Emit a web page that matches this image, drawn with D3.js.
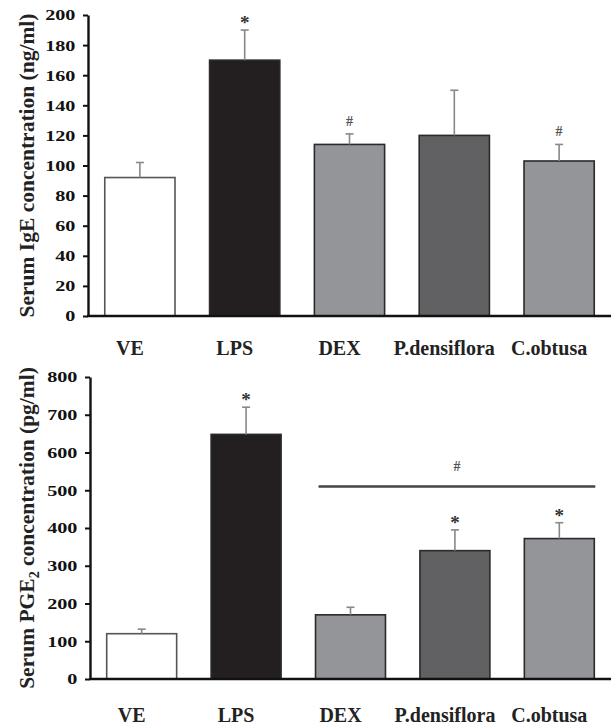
<!DOCTYPE html>
<html>
<head>
<meta charset="utf-8">
<script src="https://cdn.jsdelivr.net/npm/d3@7/dist/d3.min.js"></script>
<style>
body { margin: 0; background: #fff; }
svg { display: block; }
text { font-family: "Liberation Serif", "Times New Roman", serif; font-weight: bold; }
</style>
</head>
<body>
<svg width="613" height="727"></svg>
<script>
var groups = ["VE", "LPS", "DEX", "P.densiflora", "C.obtusa"];
var fills = ["#ffffff", "#231f20", "#939598", "#616163", "#939598"];

var igeMean = [92, 170, 114, 120, 103];
var igeErr = [10, 20, 7, 30, 11];
var igeMarks = ["", "*", "#", "", "#"];
var igeTicks = [0, 20, 40, 60, 80, 100, 120, 140, 160, 180, 200];

var pgeMean = [120, 648, 170, 340, 372];
var pgeErr = [12, 72, 20, 55, 42];
var pgeMarks = ["", "*", "", "*", "*"];
var pgeTicks = [0, 100, 200, 300, 400, 500, 600, 700, 800];
var pgeLineValue = 510;

var svg = d3.select("svg");

function panel(opt){
	var x = d3.scaleBand().domain(groups).range([opt.left, 611]).paddingInner(0.33).paddingOuter(0.16);
	var y = d3.scaleLinear().domain([0, opt.max]).range([opt.bottom, opt.top]);
	var g = svg.append("g");

	// bars
	g.selectAll("rect.bar").data(opt.mean).enter().append("rect")
		.attr("x", function(d, i){ return x(groups[i]); })
		.attr("y", function(d){ return y(d); })
		.attr("width", x.bandwidth())
		.attr("height", function(d){ return y(0) - y(d); })
		.attr("fill", function(d, i){ return fills[i]; })
		.attr("stroke", function(d, i){ return i == 0 ? "#555" : "#2a2a2a"; })
		.attr("stroke-width", 1.6);

	// error bars
	opt.mean.forEach(function(m, i){
		var cx = x(groups[i]) + x.bandwidth()/2;
		g.append("line").attr("x1", cx).attr("x2", cx)
			.attr("y1", y(m)).attr("y2", y(m + opt.err[i]))
			.attr("stroke", "#888").attr("stroke-width", 1.6);
		g.append("line").attr("x1", cx - 4).attr("x2", cx + 4)
			.attr("y1", y(m + opt.err[i])).attr("y2", y(m + opt.err[i]))
			.attr("stroke", "#888").attr("stroke-width", 1.6);
		var mk = opt.marks[i];
		if (mk == "*"){
			g.append("text").attr("x", cx).attr("y", y(m + opt.err[i]) - 1)
				.attr("text-anchor", "middle").attr("font-size", 19)
				.attr("font-weight", "normal").attr("fill", "#333").text("*");
		}
		else if (mk == "#"){
			g.append("text").attr("x", cx).attr("y", y(m + opt.err[i]) - 8)
				.attr("text-anchor", "middle").attr("font-size", 14)
				.attr("font-weight", "normal").attr("fill", "#555").text("#");
		}
	});

	// y axis
	var ya = g.append("g").attr("transform", "translate(" + opt.left + ",0)")
		.call(d3.axisLeft(y).tickValues(opt.ticks).tickSize(5).tickSizeOuter(0).tickPadding(6));
	ya.select(".domain").attr("stroke", "#111").attr("stroke-width", 2.4);
	ya.selectAll(".tick line").attr("stroke", "#111").attr("stroke-width", 2);
	ya.selectAll(".tick text").attr("font-size", 15.5).attr("fill", "#111")
		.attr("font-family", "Liberation Serif").attr("font-weight", "bold")
		.attr("transform", "scale(1.3,1)").attr("x", -10/1.3 - 2);

	// baseline
	g.append("line").attr("x1", opt.left - 1).attr("x2", 611)
		.attr("y1", y(0)).attr("y2", y(0))
		.attr("stroke", "#111").attr("stroke-width", 2.4);

	// x labels
	g.selectAll("text.xl").data(groups).enter().append("text")
		.attr("class", "xl")
		.attr("x", function(d){ return x(d) + x.bandwidth()/2 - 10; })
		.attr("y", opt.labelY)
		.attr("text-anchor", "middle").attr("font-size", 20).attr("fill", "#222")
		.text(function(d){ return d; });

	// y title
	var t = g.append("text")
		.attr("transform", "translate(34," + ((opt.top + opt.bottom)/2) + ") rotate(-90)")
		.attr("text-anchor", "middle").attr("font-size", 21.5).attr("fill", "#222");
	opt.title(t);
	return {x: x, y: y, g: g};
}

panel({
	left: 88, top: 15, bottom: 316, max: 200, labelY: 355,
	mean: igeMean, err: igeErr, marks: igeMarks, ticks: igeTicks,
	title: function(t){ t.text("Serum IgE concentration (ng/ml)"); }
});

var p2 = panel({
	left: 90, top: 377, bottom: 679, max: 800, labelY: 722,
	mean: pgeMean, err: pgeErr, marks: pgeMarks, ticks: pgeTicks,
	title: function(t){
		t.append("tspan").text("Serum PGE");
		t.append("tspan").attr("font-size", 14).attr("dy", 5).text("2");
		t.append("tspan").attr("dy", -5).text(" concentration (pg/ml)");
	}
});

// significance line over DEX..C.obtusa
p2.g.append("line")
	.attr("x1", p2.x("DEX") + 3).attr("x2", p2.x("C.obtusa") + p2.x.bandwidth() + 1)
	.attr("y1", p2.y(pgeLineValue)).attr("y2", p2.y(pgeLineValue))
	.attr("stroke", "#444").attr("stroke-width", 2.4);
p2.g.append("text")
	.attr("x", p2.x("P.densiflora") + p2.x.bandwidth()/2 + 2)
	.attr("y", p2.y(pgeLineValue) - 15)
	.attr("text-anchor", "middle").attr("font-size", 14)
	.attr("font-weight", "normal").attr("fill", "#555").text("#");
</script>
</body>
</html>
